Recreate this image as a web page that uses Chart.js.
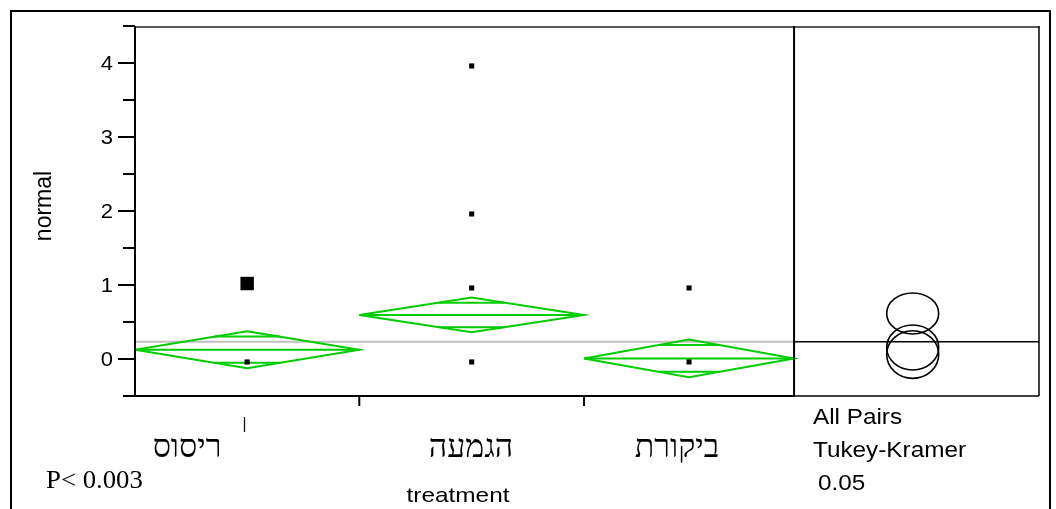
<!DOCTYPE html>
<html>
<head>
<meta charset="utf-8">
<script src="https://cdn.jsdelivr.net/npm/chart.js@4.4.1/dist/chart.umd.min.js"></script>
<style>
  html, body { margin: 0; padding: 0; background: #fff; }
</style>
</head>
<body>
<canvas id="oneway" width="1056" height="509"></canvas>
<script>
// treatment groups and where each one sits on the x scale (widths follow group size)
const groups = ["ריסוס", "הגמעה", "ביקורת"];
const groupEdges = [0, 1.021, 2.044, 3];

// observations per group
const obsRisus = [-0.04];
const obsHagmaa = [3.96, 1.96, 0.96, -0.04];
const obsBikoret = [0.96, -0.04];
const selectedRisus = [1.02];

// means diamonds
const groupMeans = [0.126, 0.595, 0.008];
const ciHalfWidth = [0.25, 0.235, 0.255];
const grandMean = 0.234;

// Tukey-Kramer comparison circles
const circleCenters = [0.155, 0.615, 0.06];
const circleRadii = [0.304, 0.277, 0.322];

const yTicks = [-0.5, 0, 0.5, 1, 1.5, 2, 2.5, 3, 3.5, 4, 4.5];
const xMax = 4.115;
const compareX = 3.54;

const green = "#00cc00";

const centers = groups.map((g, i) => (groupEdges[i] + groupEdges[i + 1]) / 2);

function line(data, color, width, order) {
  return {
    type: "line",
    data: data,
    borderColor: color,
    borderWidth: width,
    pointRadius: 0,
    tension: 0,
    fill: false,
    order: order,
  };
}

const datasets = [];

// selected point (big square) and the rest of the observations
datasets.push({
  data: selectedRisus.map((v) => ({ x: centers[0], y: v })),
  pointStyle: "rect",
  pointRadius: 9.5,
  backgroundColor: "#000",
  borderWidth: 0,
  order: 0,
});
datasets.push({
  data: []
    .concat(obsRisus.map((v) => ({ x: centers[0], y: v })))
    .concat(obsHagmaa.map((v) => ({ x: centers[1], y: v })))
    .concat(obsBikoret.map((v) => ({ x: centers[2], y: v }))),
  pointStyle: "rect",
  pointRadius: 3.6,
  backgroundColor: "#000",
  borderWidth: 0,
  order: 1,
});

groups.forEach((g, i) => {
  const l = groupEdges[i], r = groupEdges[i + 1], c = centers[i];
  const m = groupMeans[i], h = ciHalfWidth[i];
  // diamond
  datasets.push(line([
    { x: l, y: m }, { x: c, y: m + h }, { x: r, y: m }, { x: c, y: m - h }, { x: l, y: m },
  ], green, 2, 2));
  // mean line
  datasets.push(line([{ x: l, y: m }, { x: r, y: m }], green, 2, 2));
  // overlap marks
  const o = h / Math.SQRT2;
  const half = ((r - l) / 2) * (1 - 1 / Math.SQRT2);
  datasets.push(line([{ x: c - half, y: m + o }, { x: c + half, y: m + o }], green, 2, 2));
  datasets.push(line([{ x: c - half, y: m - o }, { x: c + half, y: m - o }], green, 2, 2));
});

// grand mean
datasets.push(line([{ x: 0, y: grandMean }, { x: 3, y: grandMean }], "#c0c0c0", 2, 5));
datasets.push(line([{ x: 3, y: grandMean }, { x: xMax, y: grandMean }], "#000", 1.5, 5));

function drawText(ctx, str, x, y, font, align, sx, baseline) {
  ctx.save();
  ctx.font = font;
  ctx.fillStyle = "#000";
  ctx.textAlign = align;
  ctx.textBaseline = baseline || "alphabetic";
  ctx.translate(x, y);
  ctx.scale(sx || 1, 1);
  ctx.fillText(str, 0, 0);
  ctx.restore();
}

function seg(ctx, x1, y1, x2, y2, w, color) {
  ctx.beginPath();
  ctx.lineWidth = w;
  ctx.strokeStyle = color || "#000";
  ctx.moveTo(x1, y1);
  ctx.lineTo(x2, y2);
  ctx.stroke();
}

const frames = {
  id: "frames",
  afterDatasetsDraw(chart) {
    const ctx = chart.ctx;
    const xs = chart.scales.x, ys = chart.scales.y;
    const a = chart.chartArea;
    ctx.save();

    // outer frame
    seg(ctx, 10, 11, 1051, 11, 2);
    seg(ctx, 11, 10, 11, 509, 2);
    seg(ctx, 1050, 10, 1050, 509, 2);

    // plot frame
    const xSplit = xs.getPixelForValue(3);
    seg(ctx, a.left, a.top + 1, a.right, a.top + 1, 1.5, "#222");
    seg(ctx, a.left, a.top, a.left, a.bottom + 1, 2);
    seg(ctx, a.left, a.bottom, xSplit, a.bottom, 2);
    seg(ctx, xSplit, a.bottom, a.right, a.bottom, 1.5);
    seg(ctx, xSplit, a.top, xSplit, a.bottom + 1, 2);
    seg(ctx, a.right, a.top, a.right, a.bottom, 1.5);

    // y ticks and labels
    yTicks.forEach((v) => {
      const py = Math.round(ys.getPixelForValue(v));
      const major = Number.isInteger(v);
      seg(ctx, a.left - (major ? 17 : 12), py, a.left, py, 2);
      if (major) {
        drawText(ctx, String(v), a.left - 22, py + 1, "20px 'Liberation Sans'", "right", 1.1, "middle");
      }
    });

    // category dividers below the axis
    [groupEdges[1], groupEdges[2]].forEach((v) => {
      const px = xs.getPixelForValue(v);
      seg(ctx, px, a.bottom, px, a.bottom + 10, 2);
    });
    seg(ctx, 244.5, 417, 244.5, 432, 1.3, "#111");

    // comparison circles
    ctx.lineWidth = 1.6;
    ctx.strokeStyle = "#000";
    circleCenters.forEach((c, i) => {
      const px = xs.getPixelForValue(compareX);
      const py = ys.getPixelForValue(c);
      const ry = ys.getPixelForValue(0) - ys.getPixelForValue(circleRadii[i]);
      ctx.beginPath();
      ctx.ellipse(px, py, 26, ry, 0, 0, Math.PI * 2);
      ctx.stroke();
    });

    // texts
    const catX = [187, 471, 677];
    groups.forEach((g, i) => {
      drawText(ctx, g, catX[i], 457, "32px 'Liberation Serif'", "center");
    });
    drawText(ctx, "treatment", 458, 502, "21px 'Liberation Sans'", "center", 1.16);
    drawText(ctx, "P< 0.003", 46, 488, "25px 'Liberation Serif'", "left", 1.07);
    drawText(ctx, "All Pairs", 813, 424, "21.5px 'Liberation Sans'", "left", 1.13);
    drawText(ctx, "Tukey-Kramer", 813, 457, "21.5px 'Liberation Sans'", "left", 1.13);
    drawText(ctx, "0.05", 818, 490, "21.5px 'Liberation Sans'", "left", 1.13);

    ctx.save();
    ctx.translate(51, 206);
    ctx.rotate(-Math.PI / 2);
    ctx.font = "23px 'Liberation Sans'";
    ctx.fillStyle = "#000";
    ctx.textAlign = "center";
    ctx.fillText("normal", 0, 0);
    ctx.restore();

    ctx.restore();
  },
};

new Chart(document.getElementById("oneway"), {
  type: "scatter",
  data: { datasets: datasets },
  options: {
    responsive: false,
    animation: false,
    devicePixelRatio: 1,
    layout: { padding: { left: 135, right: 17, top: 26, bottom: 113 } },
    plugins: { legend: { display: false }, tooltip: { enabled: false } },
    scales: {
      x: { type: "linear", min: 0, max: xMax, display: false },
      y: { type: "linear", min: -0.5, max: 4.5, display: false },
    },
  },
  plugins: [frames],
});
</script>
</body>
</html>
